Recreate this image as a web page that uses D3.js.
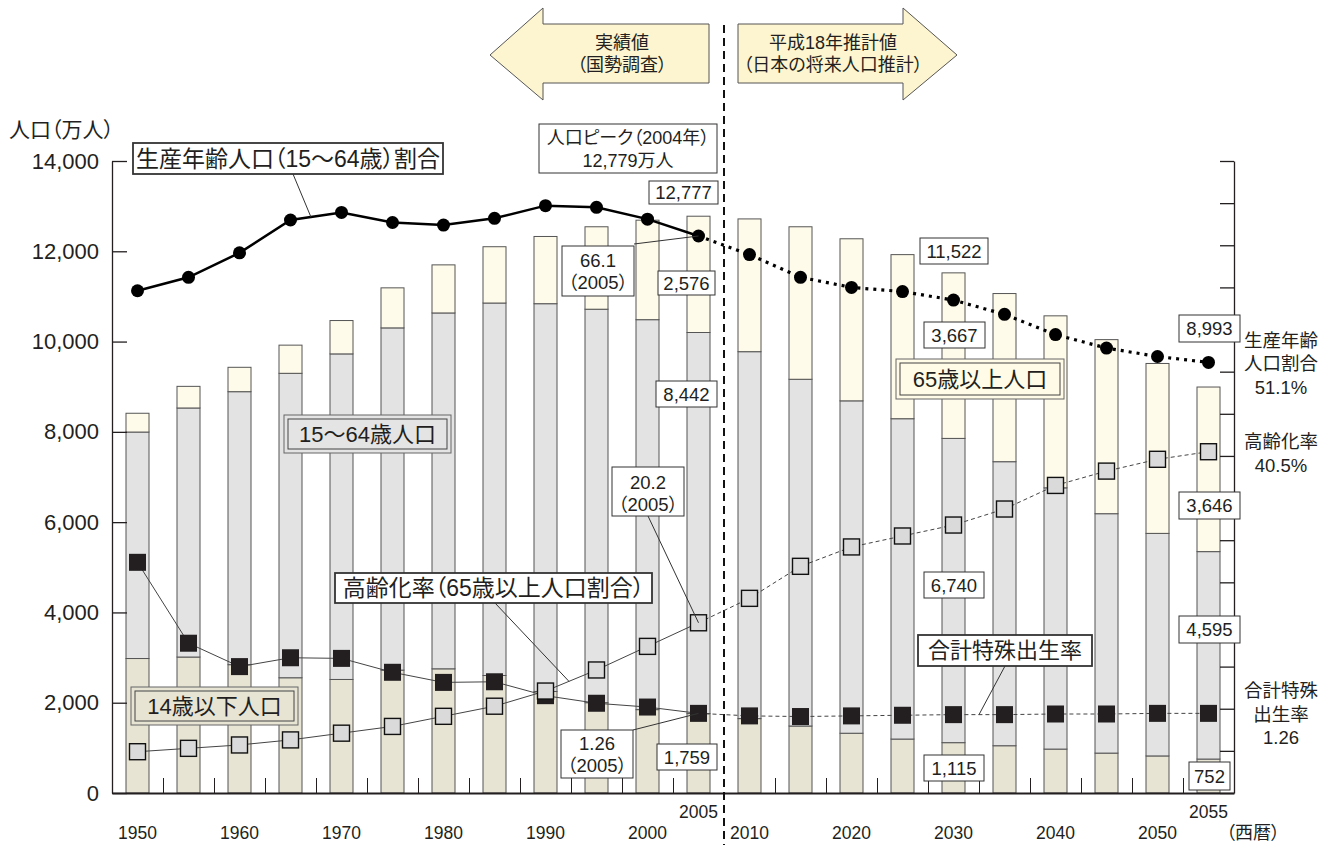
<!DOCTYPE html>
<html>
<head>
<meta charset="utf-8">
<script src="https://cdn.jsdelivr.net/npm/d3@7"></script>
<style>
    body { margin: 0; background: #fff; }
    text { font-family: "Liberation Sans", "Noto Sans CJK JP", sans-serif; fill: #231f20;
           font-feature-settings: "palt"; }
</style>
</head>
<body>
<div id="chart"></div>
<script>
// population by age group (万人), census up to 2005, 平成18年推計 after
var years     = [1950, 1955, 1960, 1965, 1970, 1975, 1980, 1985, 1990, 1995, 2000, 2005,
                 2010, 2015, 2020, 2025, 2030, 2035, 2040, 2045, 2050, 2055];
var popYoung  = [2979, 3012, 2843, 2553, 2515, 2722, 2751, 2603, 2249, 2001, 1847, 1759,
                 1648, 1484, 1324, 1195, 1115, 1047, 973, 884, 821, 752];
var popWork   = [5017, 5517, 6047, 6744, 7212, 7581, 7883, 8251, 8590, 8716, 8638, 8442,
                 8128, 7681, 7363, 7096, 6740, 6292, 5787, 5303, 4930, 4595];
var popOld    = [416, 479, 540, 624, 739, 887, 1065, 1247, 1489, 1826, 2204, 2576,
                 2941, 3378, 3590, 3635, 3667, 3725, 3810, 3856, 3764, 3646];
// ratios (%), right axis
var ratioWork = [59.6, 61.2, 64.1, 68.0, 68.9, 67.7, 67.4, 68.2, 69.7, 69.5, 68.1, 66.1,
                 63.9, 61.2, 60.0, 59.5, 58.5, 56.8, 54.4, 52.8, 51.8, 51.1];
var ratioOld  = [4.9, 5.3, 5.7, 6.3, 7.1, 7.9, 9.1, 10.3, 12.1, 14.6, 17.4, 20.2,
                 23.1, 26.9, 29.2, 30.5, 31.8, 33.7, 36.5, 38.2, 39.6, 40.5];
// total fertility rate
var tfr       = [3.65, 2.37, 2.00, 2.14, 2.13, 1.91, 1.75, 1.76, 1.54, 1.42, 1.36, 1.26,
                 1.22, 1.21, 1.22, 1.23, 1.24, 1.24, 1.25, 1.25, 1.26, 1.26];
var popTicks   = [0, 2000, 4000, 6000, 8000, 10000, 12000, 14000];
var pctTicks   = [0, 5, 10, 15, 20, 25, 30, 35, 40, 45, 50, 55, 60, 65, 70, 75];
var yearLabels = [1950, 1960, 1970, 1980, 1990, 2000, 2010, 2020, 2030, 2040, 2050];
var raisedYearLabels = [2005, 2055];
var lastActual = 2005;

var width = 1336, height = 845;
var fmt = d3.format(",");

var svg = d3.select("#chart")
    .append("svg")
    .attr("width", width)
    .attr("height", height);

var x = d3.scaleLinear().domain([1947.5, 2057.5]).range([112, 1234]);
var y = d3.scaleLinear().domain([0, 14000]).range([793, 161]);
var yPct = d3.scaleLinear().domain([0, 75]).range([793, 161]);
var yTfr = d3.scaleLinear().domain([0, 10]).range([793, 161]);
var barW = 23;

var rows = years.map(function (yr, i) {
    return {year: yr, young: popYoung[i], work: popWork[i], old: popOld[i]};
});
var series = d3.stack().keys(["young", "work", "old"])(rows);
var barColors = {young: "#e7e4d4", work: "#e3e3e3", old: "#fffbea"};

// ---- top arrows
var arrowFill = "#fdf5cf";
svg.append("polygon")
    .attr("points", "490,55 543,8 543,24 709,24 709,83 543,83 543,100")
    .attr("fill", arrowFill).attr("stroke", "#555").attr("stroke-width", 1);
svg.append("polygon")
    .attr("points", "738,24 903,24 903,8 957,55 903,100 903,83 738,83")
    .attr("fill", arrowFill).attr("stroke", "#555").attr("stroke-width", 1);

function textLines(cx, cys, lines, size, anchor) {
    lines.forEach(function (s, i) {
        svg.append("text")
            .attr("x", cx).attr("y", cys[i]).attr("dy", "0.36em")
            .attr("text-anchor", anchor || "middle")
            .style("font-size", size + "px")
            .text(s);
    });
}
textLines(622, [43, 65], ["実績値", "（国勢調査）"], 18);
textLines(833, [43, 65], ["平成18年推計値", "（日本の将来人口推計）"], 18);

// ---- bars
svg.append("g").selectAll("g")
    .data(series)
    .enter().append("g")
    .attr("fill", function (d) { return barColors[d.key]; })
    .selectAll("rect")
    .data(function (d) { return d; })
    .enter().append("rect")
    .attr("x", function (d) { return x(d.data.year) - barW / 2; })
    .attr("y", function (d) { return y(d[1]); })
    .attr("width", barW)
    .attr("height", function (d) { return y(d[0]) - y(d[1]); })
    .attr("stroke", "#555")
    .attr("stroke-width", 1);

// ---- axes
svg.append("g")
    .attr("transform", "translate(112,0)")
    .call(d3.axisLeft(y).tickValues(popTicks).tickSizeInner(-15).tickSizeOuter(0)
        .tickPadding(13).tickFormat(fmt))
    .call(function (g) {
        g.selectAll("text").style("font-size", "22px").attr("fill", "#231f20");
        g.selectAll("line, path").attr("stroke", "#231f20").attr("stroke-width", 1.3);
    });

svg.append("g")
    .attr("transform", "translate(1234,0)")
    .call(d3.axisRight(yPct).tickValues(pctTicks).tickSizeInner(-14).tickSizeOuter(0)
        .tickFormat(""))
    .call(function (g) {
        g.selectAll("line, path").attr("stroke", "#231f20").attr("stroke-width", 1.3);
    });

var gaps = years.slice(1).map(function (yr) { return yr - 2.5; })
    .filter(function (v) { return v !== lastActual + 2.5; });
svg.append("g")
    .attr("transform", "translate(0,793)")
    .call(d3.axisBottom(x).tickValues(gaps).tickSizeInner(-15).tickSizeOuter(0).tickFormat(""))
    .call(function (g) {
        g.selectAll("line").attr("stroke", "#231f20").attr("stroke-width", 1);
        g.select("path").attr("stroke", "#231f20").attr("stroke-width", 2.2);
    });

yearLabels.forEach(function (yr) {
    textLines(x(yr), [833], [String(yr)], 17.5);
});
raisedYearLabels.forEach(function (yr) {
    textLines(x(yr), [812], [String(yr)], 17.5);
});
textLines(1253, [833], ["（西暦）"], 18);
textLines(9, [129], ["人口（万人）"], 21, "start");

// actual / projection divider
svg.append("line")
    .attr("x1", x(lastActual + 2.5)).attr("x2", x(lastActual + 2.5))
    .attr("y1", 25).attr("y2", 845)
    .attr("stroke", "#111").attr("stroke-width", 2)
    .attr("stroke-dasharray", "8,5");

// ---- lines
var line = d3.line();
function pts(vals, scale, part) {
    var out = [];
    years.forEach(function (yr, i) {
        if ((part === "a" && yr <= lastActual) || (part === "p" && yr >= lastActual)) {
            out.push([x(yr), scale(vals[i])]);
        }
    });
    return out;
}
function drawLine(vals, scale, color, w, wDash, dash) {
    svg.append("path").attr("d", line(pts(vals, scale, "a")))
        .attr("fill", "none").attr("stroke", color).attr("stroke-width", w);
    svg.append("path").attr("d", line(pts(vals, scale, "p")))
        .attr("fill", "none").attr("stroke", color).attr("stroke-width", wDash)
        .attr("stroke-dasharray", dash);
}

// total fertility rate
drawLine(tfr, yTfr, "#444", 1, 1, "4,3");
svg.append("g").selectAll("rect")
    .data(tfr).enter().append("rect")
    .attr("x", function (d, i) { return x(years[i]) - 8.5; })
    .attr("y", function (d) { return yTfr(d) - 8.5; })
    .attr("width", 17).attr("height", 17)
    .attr("fill", "#231f20");

// elderly ratio
drawLine(ratioOld, yPct, "#444", 1, 1, "4,3");
svg.append("g").selectAll("rect")
    .data(ratioOld).enter().append("rect")
    .attr("x", function (d, i) { return x(years[i]) - 8; })
    .attr("y", function (d) { return yPct(d) - 8; })
    .attr("width", 16).attr("height", 16)
    .attr("fill", "#dadada").attr("stroke", "#111").attr("stroke-width", 1.4);

// working-age ratio
drawLine(ratioWork, yPct, "#000", 2.5, 3.2, "3,5");
svg.append("g").selectAll("circle")
    .data(ratioWork).enter().append("circle")
    .attr("cx", function (d, i) { return x(years[i]); })
    .attr("cy", function (d) { return yPct(d); })
    .attr("r", 6.5)
    .attr("fill", "#000");

// ---- annotations
function at(vals, scale, yr) {
    var i = d3.bisectLeft(years, yr);
    if (years[i] === yr) return [x(yr), scale(vals[i])];
    var t = (yr - years[i - 1]) / (years[i] - years[i - 1]);
    return [x(yr), scale(vals[i - 1] + t * (vals[i] - vals[i - 1]))];
}
function leader(x0, y0, p) {
    svg.append("line")
        .attr("x1", x0).attr("y1", y0).attr("x2", p[0]).attr("y2", p[1])
        .attr("stroke", "#333").attr("stroke-width", 1);
}
function box(bx, by, bw, bh, lines, size, sw, lineYs) {
    svg.append("rect")
        .attr("x", bx).attr("y", by).attr("width", bw).attr("height", bh)
        .attr("fill", "#fff").attr("stroke", "#333").attr("stroke-width", sw);
    var ys = lineYs || [by + bh / 2];
    textLines(bx + bw / 2, ys, lines, size);
}
function doubleBox(bx, by, bw, bh, label, fill) {
    svg.append("rect")
        .attr("x", bx).attr("y", by).attr("width", bw).attr("height", bh)
        .attr("fill", fill).attr("stroke", "#666").attr("stroke-width", 1);
    svg.append("rect")
        .attr("x", bx + 4).attr("y", by + 4).attr("width", bw - 8).attr("height", bh - 8)
        .attr("fill", "none").attr("stroke", "#444").attr("stroke-width", 1);
    textLines(bx + bw / 2, [by + bh / 2], [label], 22);
}

// leader lines first so boxes sit on top
leader(293, 174, at(ratioWork, yPct, 1967));
leader(634, 244, at(ratioWork, yPct, 2005));
leader(648, 516, at(ratioOld, yPct, 2005));
leader(495, 603, at(ratioOld, yPct, 1992.3));
leader(1005, 666, at(tfr, yTfr, 2032.5));
leader(633, 730, at(tfr, yTfr, 2005));

box(133, 143, 310, 31, ["生産年齢人口（15〜64歳）割合"], 23, 1.8);
box(335, 573, 317, 30, ["高齢化率（65歳以上人口割合）"], 23, 1.8);
box(918, 635, 174, 31, ["合計特殊出生率"], 22, 1.8);

box(539, 124, 178, 49, ["人口ピーク（2004年）", "12,779万人"], 18, 1, [138, 161]);
box(562, 246, 72, 50, [String(ratioWork[11]), "（" + lastActual + "）"], 18.5, 1, [260, 282]);
box(612, 467, 72, 49, [String(ratioOld[11]), "（" + lastActual + "）"], 18.5, 1, [482, 504]);
box(561, 730, 72, 48, [String(tfr[11]), "（" + lastActual + "）"], 18.5, 1, [743, 765]);

// value boxes read from the arrays
function idx(yr) { return years.indexOf(yr); }
function total(yr) { var i = idx(yr); return popYoung[i] + popWork[i] + popOld[i]; }
box(649, 181, 69, 23, [fmt(total(2005))], 18.5, 1);
box(658, 271, 57, 24, [fmt(popOld[idx(2005)])], 18.5, 1);
box(656, 381, 61, 26, [fmt(popWork[idx(2005)])], 18.5, 1);
box(657, 744, 60, 26, [fmt(popYoung[idx(2005)])], 18.5, 1);
box(920, 238, 68, 26, [fmt(total(2030))], 18.5, 1);
box(924, 322, 61, 26, [fmt(popOld[idx(2030)])], 18.5, 1);
box(924, 572, 60, 26, [fmt(popWork[idx(2030)])], 18.5, 1);
box(924, 755, 60, 26, [fmt(popYoung[idx(2030)])], 18.5, 1);
box(1179, 315, 61, 27, [fmt(total(2055))], 18.5, 1);
box(1179, 492, 61, 27, [fmt(popOld[idx(2055)])], 18.5, 1);
box(1179, 616, 61, 27, [fmt(popWork[idx(2055)])], 18.5, 1);
box(1189, 762, 41, 28, [fmt(popYoung[idx(2055)])], 18.5, 1);

doubleBox(284, 415, 167, 38, "15〜64歳人口", "#e4e4e4");
doubleBox(131, 687, 167, 38, "14歳以下人口", "#e7e4d4");
doubleBox(896, 359, 168, 40, "65歳以上人口", "#fffbe6");

// right side end labels
var last = years.length - 1;
textLines(1281, [340, 363, 387], ["生産年齢", "人口割合", ratioWork[last] + "%"], 18.5);
textLines(1281, [441, 465], ["高齢化率", ratioOld[last] + "%"], 18.5);
textLines(1281, [690, 714, 737], ["合計特殊", "出生率", String(tfr[last])], 18.5);
</script>
</body>
</html>
